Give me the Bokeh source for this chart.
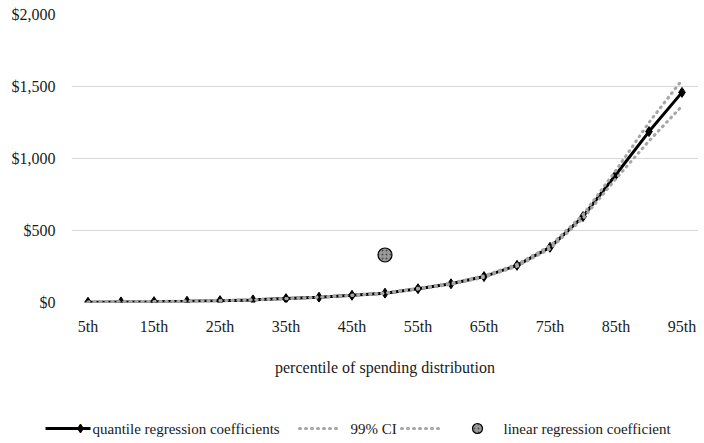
from bokeh.plotting import figure
from bokeh.models import FactorRange, NumeralTickFormatter, CustomJSTickFormatter
from bokeh.core.properties import value
from bokeh.embed import file_html
from bokeh.resources import INLINE

percentiles = ["5th", "10th", "15th", "20th", "25th", "30th", "35th", "40th", "45th", "50th",
               "55th", "60th", "65th", "70th", "75th", "80th", "85th", "90th", "95th"]
quantile_coef = [2, 4, 6, 9, 13, 18, 27, 37, 50, 65, 96, 130, 180, 258, 383, 597, 889, 1187, 1459]
ci_upper = [3, 5, 7, 10, 14, 19, 28, 38, 52, 67, 99, 134, 185, 265, 393, 610, 918, 1250, 1545]
ci_lower = [1, 3, 5, 8, 12, 17, 26, 36, 48, 63, 93, 126, 175, 251, 373, 584, 860, 1122, 1365]
linear_pct = ["50th"]
linear_coef = [330]
shown_labels = ["5th", "15th", "25th", "35th", "45th", "55th", "65th", "75th", "85th", "95th"]
legend_labels = ["quantile regression coefficients", "99% CI", "linear regression coefficient"]

FONT = "Liberation Serif"
TXT = "#1a1a1a"

MAIN = dict(line_color="black", line_width=3)
DIAM = dict(marker="diamond", fill_color="black", line_color="black")
CI = dict(line_color="#A6A6A6", line_width=3, line_dash="1 5", line_cap="round")
LIN = dict(marker="circle", fill_color="#9a9a9a", line_color="black", line_width=1.2,
           hatch_pattern="dot", hatch_color="#4d4d4d", hatch_scale=4)

W = 700
p = figure(width=W, height=390, x_range=FactorRange(factors=percentiles), y_range=(0, 2000),
           output_backend="svg", toolbar_location=None,
           min_border_left=71, min_border_right=2, min_border_top=14, min_border_bottom=88)
p.outline_line_color = None
p.background_fill_color = "white"
p.border_fill_color = "white"

p.xgrid.grid_line_color = None
p.ygrid.grid_line_color = "#D9D9D9"
p.ygrid.grid_line_width = 1
p.yaxis.ticker = [0, 500, 1000, 1500, 2000]
p.yaxis.formatter = NumeralTickFormatter(format="$0,0")

for ax in (p.xaxis, p.yaxis):
    ax.axis_line_color = None
    ax.major_tick_line_color = None
    ax.minor_tick_line_color = None
    ax.major_tick_in = 0
    ax.major_tick_out = 0
    ax.major_label_text_font = FONT
    ax.major_label_text_font_size = "16px"
    ax.major_label_text_color = TXT

p.yaxis.major_label_standoff = 16
p.xaxis.major_label_standoff = 15
p.xaxis.formatter = CustomJSTickFormatter(args=dict(shown=shown_labels),
                                          code="return shown.includes(tick) ? tick : '';")
p.xaxis.axis_label = "percentile of spending distribution"
p.xaxis.axis_label_text_font = FONT
p.xaxis.axis_label_text_font_size = "16px"
p.xaxis.axis_label_text_font_style = "normal"
p.xaxis.axis_label_text_color = TXT
p.xaxis.axis_label_standoff = 21

p.line(percentiles, quantile_coef, **MAIN)
p.scatter(percentiles, quantile_coef, size=10, **DIAM)
p.line(percentiles, ci_upper, **CI)
p.line(percentiles, ci_lower, **CI)
p.scatter(linear_pct, linear_coef, size=14, **LIN)

# ---- legend strip (pixel-unit canvas), rendered as a second root ----
LH = 50
lg = figure(width=W, height=LH, output_backend="svg", toolbar_location=None,
            x_range=(0, W), y_range=(0, LH), min_border=0,
            x_axis_type=None, y_axis_type=None)
lg.grid.visible = False
lg.outline_line_color = None
lg.border_fill_color = "white"
lg.background_fill_color = "white"

ym = 12  # legend row centre, px from bottom of strip
lg.line([45, 90], [ym, ym], **MAIN)
lg.scatter([80], [ym], size=9, **DIAM)
lg.line([299, 339], [ym, ym], **CI)
lg.line([401, 441], [ym, ym], **CI)
lg.scatter([477], [ym], size=10, **LIN)
lg.text(x=[92, 350, 503], y=[ym] * 3, text=legend_labels,
        text_font=value(FONT), text_font_size="15px", text_color=TXT,
        text_baseline="middle", text_align="left")

open("out.html", "w").write(file_html([p, lg], INLINE))
